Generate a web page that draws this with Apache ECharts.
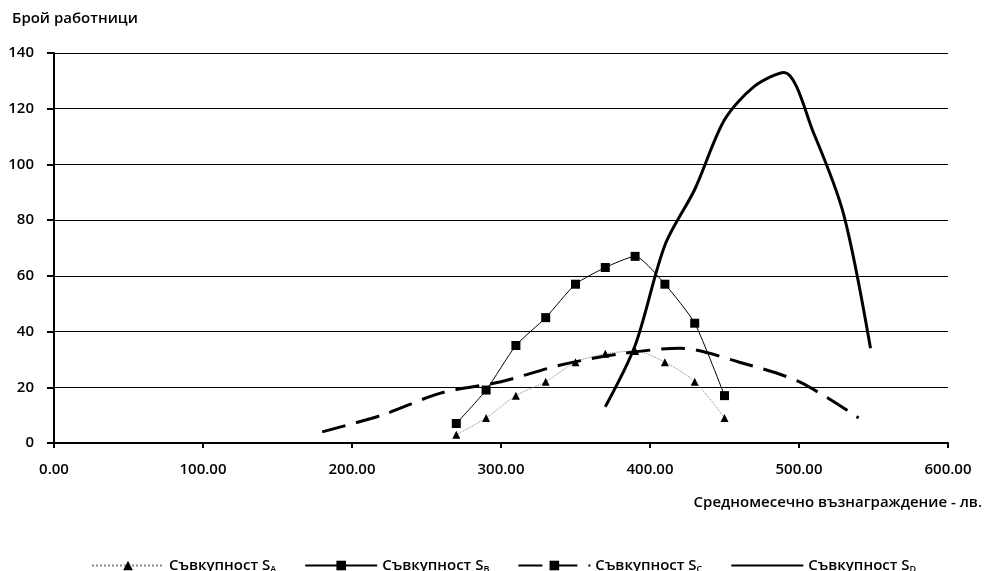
<!DOCTYPE html>
<html>
<head>
<meta charset="utf-8">
<script src="https://cdn.jsdelivr.net/npm/echarts@6/dist/echarts.min.js"></script>
<style>
  html, body { margin: 0; padding: 0; background: #fff; }
  #chart { width: 986px; height: 571px; }
</style>
</head>
<body>
<div id="chart"></div>
<script>
// x = average monthly wage (lv.), y = number of workers
var xA = [270, 290, 310, 330, 350, 370, 390, 410, 430, 450];
var yA = [3, 9, 17, 22, 29, 32, 33, 29, 22, 9];
var xB = [270, 290, 310, 330, 350, 370, 390, 410, 430, 450];
var yB = [7, 19, 35, 45, 57, 63, 67, 57, 43, 17];
var xC = [180, 220, 260, 300, 340, 380, 420, 460, 500, 540];
var yC = [4, 10, 18, 22, 28, 32, 34, 29, 22, 9];
var xD = [370, 390, 410, 430, 450, 470, 490, 510, 530, 548];
var yD = [13, 35, 71, 91, 116, 128, 133, 111, 82, 34];
var seriesNames = ['A', 'B', 'C', 'D'];

function pairs(xs, ys) {
  return xs.map(function (x, i) { return [x, ys[i]]; });
}

var font = '"Open Sans", "Noto Sans", sans-serif';

var option = {
  animation: false,
  backgroundColor: '#fff',
  textStyle: { fontFamily: font },
  grid: { left: 54, right: 38, top: 53, bottom: 128, outerBoundsMode: 'none' },
  xAxis: {
    type: 'value',
    min: 0,
    max: 600,
    interval: 100,
    axisLine: { lineStyle: { color: '#000', width: 2 } },
    axisTick: { show: true, length: 5, lineStyle: { color: '#000', width: 2 } },
    axisLabel: {
      color: '#000', fontSize: 15, fontWeight: 600, margin: 19,
      formatter: function (v) { return v.toFixed(2); }
    },
    splitLine: { show: false }
  },
  yAxis: {
    type: 'value',
    min: 0,
    max: 140,
    interval: 20,
    axisLine: { show: true, lineStyle: { color: '#000', width: 2 } },
    axisTick: { show: true, length: 7, lineStyle: { color: '#000', width: 2 } },
    axisLabel: { color: '#000', fontSize: 15, fontWeight: 600, margin: 20 },
    splitLine: { lineStyle: { color: '#000', width: 1 } }
  },
  legend: {
    top: 553,
    left: 86,
    itemWidth: 72,
    itemHeight: 12,
    itemGap: 28,
    data: [
      { name: 'A' },
      { name: 'B' },
      { name: 'C' },
      { name: 'D', itemStyle: { opacity: 0 } }
    ],
    formatter: function (n) { return '{t|Съвкупност S}{s|' + n + '}'; },
    textStyle: {
      color: '#000',
      rich: {
        t: { fontSize: 15, fontWeight: 600, fontFamily: font },
        s: { fontSize: 9, fontWeight: 600, fontFamily: font, verticalAlign: 'bottom', padding: [8, 0, 0, 0] }
      }
    }
  },
  graphic: [
    { type: 'text', left: 12, top: 11, style: { text: 'Брой работници', font: '600 15px ' + font, fill: '#000' } },
    { type: 'text', right: 4, top: 495, style: { text: 'Средномесечно възнаграждение - лв.', font: '600 15px ' + font, fill: '#000' } }
  ],
  series: [
    {
      name: seriesNames[0], type: 'line', smooth: 0.3,
      data: pairs(xA, yA),
      symbol: 'triangle', symbolSize: 8,
      itemStyle: { color: '#000' },
      lineStyle: { color: '#888', width: 1, type: 'dotted' }
    },
    {
      name: seriesNames[1], type: 'line', smooth: 0.2,
      data: pairs(xB, yB),
      symbol: 'rect', symbolSize: 9,
      itemStyle: { color: '#000' },
      lineStyle: { color: '#000', width: 1 }
    },
    {
      name: seriesNames[2], type: 'line', smooth: 0.3,
      data: pairs(xC, yC),
      symbol: 'rect', symbolSize: [14, 5], showSymbol: false,
      itemStyle: { color: '#000' },
      lineStyle: { color: '#000', width: 3, type: [24, 11] }
    },
    {
      name: seriesNames[3], type: 'line', smooth: 0.3,
      data: pairs(xD, yD),
      symbol: 'rect', showSymbol: false,
      itemStyle: { color: '#000' },
      lineStyle: { color: '#000', width: 3 }
    }
  ]
};

var myChart = echarts.init(document.getElementById('chart'));
myChart.setOption(option);
window.addEventListener('resize', function () {
  myChart.resize();
});
</script>
</body>
</html>
